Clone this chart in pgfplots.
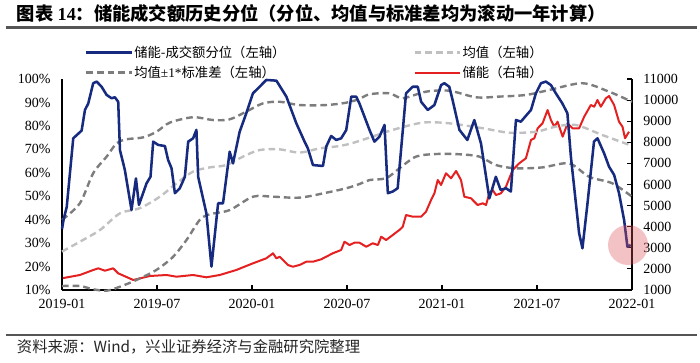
\documentclass[border=0pt]{standalone}
\usepackage{fontspec}
\usepackage{pgfplots}
\pgfplotsset{compat=1.18}
\setmainfont{Liberation Serif}
\newfontfamily\cjk{Noto Sans CJK SC}
\definecolor{navy}{RGB}{22,42,128}
\definecolor{redc}{RGB}{228,32,32}
\definecolor{dgray}{RGB}{125,125,125}
\definecolor{lgray}{RGB}{192,192,192}
\definecolor{pinkc}{RGB}{220,80,90}
\definecolor{rulec}{RGB}{85,85,85}
\pgfplotsset{
 bluel/.style={color=navy, line width=1.9pt, line join=round},
 redl/.style={color=redc, line width=1.5pt, line join=round},
 dgl/.style={color=dgray, line width=1.8pt, dash pattern=on 5pt off 3pt},
 lgl/.style={color=lgray, line width=1.8pt, dash pattern=on 5pt off 3pt},
 common/.style={scale only axis, width=427.5pt, height=158.25pt, at={(0pt,0pt)}, anchor=south west,
   xmin=0, xmax=36, clip=false,
   axis line style={line width=1.1pt, black},
   tick align=inside, major tick length=3.5pt,
   tick style={line width=0.8pt, black},
   /pgf/number format/assume math mode=true,
   /pgf/number format/set thousands separator={},
   ticklabel style={font=\rmfamily\fontsize{10.5}{12}\selectfont}},
}
\begin{document}
\begin{tikzpicture}
\useasboundingbox (-46.5pt,-54pt) rectangle (478.5pt,217.5pt);
% right axis (red)
\begin{axis}[common,
  ymin=1000, ymax=11000, axis y line*=right, axis x line=none,
  scaled y ticks=false,
  ytick={1000,2000,3000,4000,5000,6000,7000,8000,9000,10000,11000},
  yticklabel style={xshift=5pt}]
\addplot[redl] coordinates {
(0,1555) (1.13,1711) (1.97,1948) (2.29,2028) (2.71,1915) (3.23,2028) (3.55,1791) (4.5,1474) (5.55,1664) (6.6,1711) (7.23,1631) (8.28,1711) (9.12,1602) (9.96,1711) (11.01,1948) (12.06,2265) (12.9,2502) (13.33,2739) (13.54,2502) (13.75,2580) (14.27,2185) (14.58,2104) (15.0,2185) (15.43,2341) (15.85,2341) (16.37,2455) (16.69,2580) (17.1,2739) (17.63,2896) (17.84,3289) (18.16,3133) (18.47,3242) (18.79,3242) (19.21,3052) (19.63,3213) (19.95,3133) (20.16,3526) (20.47,3370) (20.89,3607) (21.31,3844) (21.52,4000) (21.73,4555) (22.15,4474) (22.68,4474) (22.99,4711) (23.31,5265) (23.52,5583) (23.73,6213) (23.94,5976) (24.25,6531) (24.57,6294) (24.89,6640) (25.2,6213) (25.41,5422) (25.83,5346) (26.25,5028) (26.57,5109) (26.78,5028) (26.99,5583) (27.2,5739) (27.41,5502) (27.72,5583) (28.04,5896) (28.46,6687) (28.88,7005) (29.3,7242) (29.62,8109) (29.83,8190) (30.04,8664) (30.35,8900) (30.67,9531) (30.88,9057) (31.09,8739) (31.3,8976) (31.62,8265) (31.93,8900) (32.24,8664) (32.66,8664) (32.98,9213) (33.4,9768) (33.61,9687) (33.82,10005) (34.03,9687) (34.35,10085) (34.55,10194) (34.87,9768) (35.18,8976) (35.4,8739) (35.56,8190) (35.81,8502)
};
\end{axis}
% left axis
\begin{axis}[common,
  ymin=10, ymax=100, axis y line*=left, axis x line*=bottom,
  ytick={10,20,30,40,50,60,70,80,90,100},
  yticklabel={\pgfmathprintnumber{\tick}\%},
  ytick style={draw=none},
  yticklabel style={xshift=-5pt},
  xtick={0,6,12,18,24,30,36},
  xticklabels={2019-01,2019-07,2020-01,2020-07,2021-01,2021-07,2022-01},
  xticklabel style={yshift=-3pt},
  legend columns=2, legend cell align=left,
  legend image code/.code={\draw[#1] (0pt,0pt) -- (34pt,0pt);},
  legend style={at={(axis description cs:0.033,1.178)}, anchor=north west, draw=none, fill=none,
    font=\cjk\fontsize{10}{12}\selectfont, nodes={inner sep=1pt}, row sep=3pt,
    /tikz/every even column/.append style={column sep=95pt}}]
\addlegendimage{bluel}\addlegendentry{储能-成交额分位（左轴）}
\addlegendimage{lgl}\addlegendentry{均值（左轴）}
\addlegendimage{dgl}\addlegendentry{均值{\rmfamily ±1*}标准差（左轴）}
\addlegendimage{redl}\addlegendentry{储能（右轴）}
\addplot[lgl, smooth, forget plot] coordinates {
(0,26.4) (1.13,30.6) (2.4,35.6) (3.66,42.7) (4.92,44.9) (6.18,49.8) (7.23,55.5) (8.28,60.5) (9.33,62.3) (10.38,63.3) (11.43,66.9) (12.48,69.7) (13.75,70) (15,68.6) (16.27,70.4) (17.53,71.4) (18.16,72.3) (19.42,75) (20.89,78.3) (22.78,81.4) (24.46,81.1) (26.57,79) (28.25,77.1) (29.93,77.5) (31.19,79.7) (32.45,80.4) (34.13,76.1) (36,71.5)
};
\addplot[dgl, smooth, forget plot] coordinates {
(0,39.9) (1.13,47) (1.97,59.8) (2.82,66.9) (3.45,72.6) (4.08,74.3) (5.13,75.1) (5.97,77.5) (6.81,81.4) (8.28,83.7) (9.54,82.5) (10.59,82.8) (11.64,86.1) (12.69,89.6) (13.75,90.3) (15,88.9) (16.69,88.9) (17.95,89.9) (18.79,91.5) (19.42,93.5) (20.68,93.9) (21.52,91.8) (22.99,94.6) (24.46,95) (26.15,92.2) (27.62,92.5) (29.3,93.2) (30.77,95.3) (32.87,98.2) (34.55,94.6) (36,90.3)
};
\addplot[dgl, smooth, forget plot] coordinates {
(0,11.7) (1.13,11.7) (1.97,10.3) (2.82,9.7) (3.66,11.4) (4.71,14.3) (5.97,18.6) (7.02,24.2) (7.86,31.3) (8.7,39.9) (9.33,42.3) (10.59,44.1) (12.06,49.8) (13.33,49.8) (15,49.4) (16.69,51.5) (17.95,53.4) (18.79,55.2) (19.42,56.9) (20.47,57.7) (21.31,61.9) (22.36,66.9) (23.62,68) (25.1,67.9) (26.36,66.9) (27.41,63.3) (28.67,61.9) (30.35,62.3) (32.03,64) (33.29,58.3) (34.76,55.5) (36,49.8)
};
\addplot[bluel, forget plot] coordinates {
(0,36) (0.1,40) (0.3,45.5) (0.71,74.7) (1.24,78) (1.45,86.8) (1.66,89.6) (1.97,98.2) (2.19,98.9) (2.5,96.7) (2.82,93.2) (3.13,91.8) (3.34,92.2) (3.55,90.3) (3.66,69.7) (3.97,61.2) (4.39,44.1) (4.67,57.6) (4.86,46.3) (5.34,55.5) (5.59,58.3) (5.76,73.3) (6.07,71.9) (6.5,71.4) (6.7,65.5) (6.92,61.9) (7.13,51.3) (7.44,53.4) (7.76,58.3) (7.97,73.3) (8.28,74.7) (8.49,78.3) (8.6,58.3) (9.12,42.7) (9.44,20) (9.75,39.9) (9.86,47) (10.17,47) (10.59,69) (10.8,64) (11.22,77.5) (11.64,85.4) (12.06,93.9) (12.48,96.7) (12.9,99.6) (13.54,99.3) (14.17,92.5) (14.8,81.1) (15.32,73.3) (15.53,70.4) (15.85,63.3) (16.48,62.9) (16.69,71.2) (17.0,75.7) (17.32,74) (17.63,74.7) (17.95,78.2) (18.27,92.5) (18.58,92.5) (18.79,89.5) (19.1,84) (19.42,78.3) (19.73,73.3) (20.05,75.4) (20.37,80.4) (20.58,51.3) (20.89,52) (21.2,53.4) (21.73,93.9) (22.15,96.7) (22.47,96.7) (22.68,90.3) (23.1,86.8) (23.52,88.9) (23.94,97.4) (24.15,98.2) (24.46,96.7) (24.67,91) (25.1,78.3) (25.6,74) (26.04,82.5) (26.46,72.6) (26.99,49.1) (27.4,58.3) (27.7,52.7) (28.04,53.4) (28.35,52) (28.67,82.5) (28.98,81.8) (29.62,86.8) (29.93,93.9) (30.25,98.2) (30.56,98.9) (30.88,97.4) (31.19,93.9) (31.6,89.6) (31.92,85.4) (32.14,66.9) (32.66,34.2) (32.87,27.8) (33.19,47) (33.6,73.3) (33.82,74.7) (34.24,68.3) (34.55,62.6) (34.87,59.1) (35.18,51.3) (35.5,39.9) (35.71,28.5) (35.92,29.2)
};
\fill[pinkc, opacity=0.35] (axis cs:35.75,29.2) circle[radius=15pt];
\end{axis}
% title, rules, source
\node[anchor=west, inner sep=0pt, font=\fontsize{13.7}{15}\selectfont\bfseries] at (-34pt,207pt)
  {{\cjk 图表 }14{\cjk ：储能成交额历史分位（分位、均值与标准差均为滚动一年计算）}};
\draw[rulec, line width=1.6pt] (-42pt,196.9pt) -- (476.25pt,196.9pt);
\draw[rulec, line width=0.9pt] (-42pt,-33.75pt) -- (476.25pt,-33.75pt);
\node[anchor=west, inner sep=0pt, font=\cjk\fontsize{11.5}{13}\selectfont, text=black!85] at (-34pt,-42.75pt)
  {资料来源：Wind，兴业证券经济与金融研究院整理};
\end{tikzpicture}
\end{document}
